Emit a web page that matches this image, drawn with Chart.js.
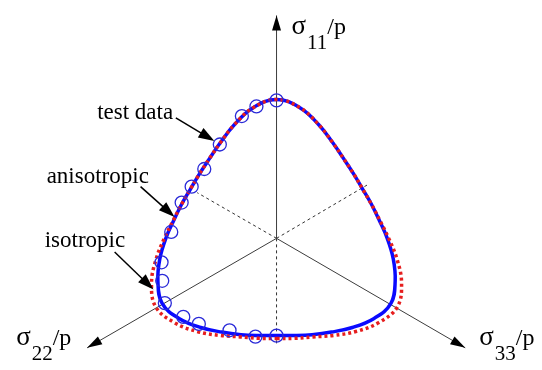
<!DOCTYPE html>
<html>
<head>
<meta charset="utf-8">
<script src="https://cdn.jsdelivr.net/npm/chart.js@4/dist/chart.umd.min.js"></script>
<style>
  html, body { margin: 0; padding: 0; background: #ffffff; }
  #wrap { width: 542px; height: 370px; }
</style>
</head>
<body>
<div id="wrap"><canvas id="chart" width="542" height="370"></canvas></div>
<script>
// Polar angle on the deviatoric plane (deg, counter-clockwise; σ11 axis at 90°)
const polarAngle = [270, 280, 290, 300, 310, 320, 330, 340, 350, 360, 370, 380, 390,
                    400, 410, 420, 430, 440, 450, 460, 470, 480, 490, 500, 510,
                    520, 530, 540, 550, 560, 570, 580, 590, 600, 610, 620, 630];

// Failure surface radius, isotropic model
const isoRadius = [1.045, 1.06, 1.095, 1.17, 1.27, 1.37, 1.435, 1.37, 1.26, 1.155, 1.08, 1.04, 1.025,
                   1.04, 1.08, 1.155, 1.265, 1.385, 1.45, 1.385, 1.265, 1.155, 1.08, 1.04, 1.025,
                   1.04, 1.08, 1.155, 1.26, 1.37, 1.435, 1.37, 1.27, 1.17, 1.095, 1.06, 1.045];

// Failure surface radius, anisotropic model
const anisoRadius = [1.015, 1.03, 1.07, 1.13, 1.215, 1.305, 1.36, 1.30, 1.22, 1.14, 1.075, 1.04, 1.025,
                     1.04, 1.08, 1.155, 1.265, 1.385, 1.45, 1.385, 1.265, 1.155, 1.08, 1.04, 1.025,
                     1.04, 1.075, 1.14, 1.22, 1.30, 1.36, 1.305, 1.215, 1.13, 1.07, 1.03, 1.015];

// Measured strength points on the deviatoric plane
const testX = [0.00, -0.207, -0.357, -0.584, -0.744, -0.874, -0.977, -1.084, -1.184, -1.177,
               -1.15, -0.96, -0.80, -0.484, -0.217, 0.00];
const testY = [1.44, 1.377, 1.277, 0.98, 0.724, 0.54, 0.374, 0.067, -0.25, -0.443,
               -0.676, -0.82, -0.893, -0.96, -1.026, -1.016];

// Principal stress axes (tips) and their negative directions (dashed)
const axisNames = ['11', '22', '33'];
const axisTipX = [0, -1.95, 1.943];
const axisTipY = [2.327, -1.143, -1.143];
const negEndX = [0, -0.817, 0.95];
const negEndY = [-1.123, 0.477, 0.567];

// Callout labels
const calloutText = ['test data', 'anisotropic', 'isotropic'];

const toXY = (radius) => polarAngle.map((a, i) => ({
  x: radius[i] * Math.cos(a * Math.PI / 180),
  y: radius[i] * Math.sin(a * Math.PI / 180)
}));

const isoPts = toXY(isoRadius);
const anisoPts = toXY(anisoRadius);
const testPts = testX.map((x, i) => ({ x, y: testY[i] }));

const axisSets = axisTipX.map((x, i) => ({
  data: [{ x: 0, y: 0 }, { x, y: axisTipY[i] }],
  showLine: true, borderColor: '#3c3c3c', borderWidth: 1, pointRadius: 0, order: 10
}));
const negSets = negEndX.map((x, i) => ({
  data: [{ x: 0, y: 0 }, { x, y: negEndY[i] }],
  showLine: true, borderColor: '#333333', borderWidth: 1, borderDash: [3, 3],
  pointRadius: 0, order: 10
}));

// Callout layout (text anchor and arrow path, data units)
const calloutLayout = [
  { tx: -1.847, ty: 1.247, ax0: -1.037, ay0: 1.257, ax1: -0.64, ay1: 1.017 },
  { tx: -2.367, ty: 0.577, ax0: -1.40, ay0: 0.54, ax1: -1.05, ay1: 0.224 },
  { tx: -2.387, ty: -0.093, ax0: -1.667, ay0: -0.143, ax1: -1.267, ay1: -0.533 }
];
// Axis label offsets from each arrow tip (px)
const axisLabelOffset = [[15, 19], [-71, -3], [14, -3]];

function arrowHead(ctx, x0, y0, x1, y1, len, half) {
  const dx = x1 - x0, dy = y1 - y0;
  const d = Math.hypot(dx, dy);
  const ux = dx / d, uy = dy / d;
  const bx = x1 - ux * len, by = y1 - uy * len;
  ctx.beginPath();
  ctx.moveTo(x1, y1);
  ctx.lineTo(bx - uy * half, by + ux * half);
  ctx.lineTo(bx + uy * half, by - ux * half);
  ctx.closePath();
  ctx.fill();
}

const decorations = {
  id: 'decorations',
  afterDatasetsDraw(chart) {
    const ctx = chart.ctx;
    const sx = chart.scales.x, sy = chart.scales.y;
    const px = v => sx.getPixelForValue(v), py = v => sy.getPixelForValue(v);
    const cx = px(0), cy = py(0);
    ctx.save();
    ctx.fillStyle = '#000';
    // axis arrowheads and labels
    axisTipX.forEach((x, i) => {
      const tx = px(x), ty = py(axisTipY[i]);
      arrowHead(ctx, cx, cy, tx, ty, 15, 4.5);
      let lx = tx + axisLabelOffset[i][0];
      const ly = ty + axisLabelOffset[i][1];
      ctx.textBaseline = 'alphabetic';
      ctx.textAlign = 'left';
      ctx.font = '27px "Liberation Serif"';
      ctx.fillText('σ', lx, ly);
      lx += ctx.measureText('σ').width + 1;
      ctx.font = '21px "Liberation Serif"';
      ctx.fillText(axisNames[i], lx, ly + 15);
      lx += ctx.measureText(axisNames[i]).width;
      ctx.font = '24px "Liberation Serif"';
      ctx.fillText('/p', lx, ly);
    });
    // callouts
    ctx.strokeStyle = '#000';
    ctx.lineWidth = 1.5;
    calloutLayout.forEach((c, i) => {
      ctx.font = '23px "Liberation Serif"';
      ctx.fillText(calloutText[i], px(c.tx), py(c.ty));
      const x0 = px(c.ax0), y0 = py(c.ay0), x1 = px(c.ax1), y1 = py(c.ay1);
      ctx.beginPath();
      ctx.moveTo(x0, y0);
      ctx.lineTo(x1 - (x1 - x0) * 0.2, y1 - (y1 - y0) * 0.2);
      ctx.stroke();
      arrowHead(ctx, x0, y0, x1, y1, 16, 5.5);
    });
    ctx.restore();
  }
};

new Chart(document.getElementById('chart'), {
  type: 'scatter',
  data: {
    datasets: [
      { label: 'test data', data: testPts, showLine: false, pointRadius: 6.5, pointHoverRadius: 6.5,
        pointBorderWidth: 1.3, borderColor: '#2a2ad8', backgroundColor: 'rgba(0,0,0,0)', order: 0 },
      { label: 'isotropic', data: isoPts, showLine: true, borderColor: '#e61e1e', borderWidth: 3.5,
        borderDash: [3, 3], borderCapStyle: 'butt', pointRadius: 0, tension: 0.4, order: 1 },
      { label: 'anisotropic', data: anisoPts, showLine: true, borderColor: '#0a0aff', borderWidth: 3.5,
        pointRadius: 0, tension: 0.4, order: 2 },
      ...axisSets,
      ...negSets
    ]
  },
  options: {
    responsive: false,
    animation: false,
    devicePixelRatio: 1,
    layout: { padding: 0 },
    plugins: { legend: { display: false }, tooltip: { enabled: false } },
    scales: {
      x: { type: 'linear', min: -2.767, max: 2.653, display: false },
      y: { type: 'linear', min: -1.293, max: 2.407, display: false }
    }
  },
  plugins: [decorations]
});
</script>
</body>
</html>
